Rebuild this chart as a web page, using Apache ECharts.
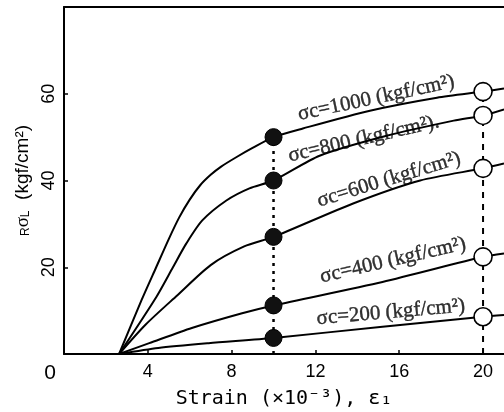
<!DOCTYPE html>
<html>
<head>
<meta charset="utf-8">
<script src="https://cdn.jsdelivr.net/npm/echarts@6/dist/echarts.min.js"></script>
<style>
  html, body { margin: 0; padding: 0; background: #fff; }
  #chart { width: 504px; height: 412px; }
</style>
</head>
<body>
<div id="chart"></div>
<script>
// Stress-strain curves for five confining pressures, [strain (x10^-3), stress]
const curve1000 = [[2.63,0],[3.7,12.4],[4.4,20],[5.0,26.5],[5.5,31.5],[6.0,35.6],[6.5,38.9],[7.0,41.3],[7.5,43.2],[8.2,45.3],[9.0,47.5],[10,50],[11.4,52],[14.6,56.1],[17.8,59.1],[20,60.5],[21,61.2]];
const curve800  = [[2.63,0],[4.4,13.1],[5.2,20],[5.84,25.5],[6.6,30.8],[7.75,35.4],[8.85,38.2],[10,40],[12.2,45.7],[15.4,50.3],[18.6,53.8],[20,55],[21,56.4]];
const curve600  = [[2.63,0],[3.9,6.8],[5.4,13.5],[7.0,20.5],[8.6,24.8],[10,27],[13.8,34.7],[17,40],[20,42.8],[21,43.9]];
const curve400  = [[2.63,0],[4.07,2.5],[6.1,6.0],[8.5,9.4],[10,11.2],[15.2,16.6],[20,22.4],[21,23.2]];
const curve200  = [[2.63,0],[4.5,1.4],[6.9,2.5],[10,3.7],[15.2,6.3],[20,8.6],[21,9.0]];

// Marked states at strain 10 and 20
const strainA = 10;
const stressA = [50, 40, 27, 11.2, 3.7];
const strainB = 20;
const stressB = [60.5, 55, 42.8, 22.4, 8.6];

// Curve captions: [x, y, text, angle]
const captions = [
  [14.9, 59.0, 'σc=1000 (kgf/cm²)', 12],
  [14.3, 49.6, 'σc=800 (kgf/cm²).', 13],
  [15.5, 40.2, 'σc=600 (kgf/cm²)', 17],
  [15.7, 21.6, 'σc=400 (kgf/cm²)', 13],
  [15.6, 9.6, 'σc=200 (kgf/cm²)', 5]
];

const xTicks = [0, 4, 8, 12, 16, 20];
const yTicks = [20, 40, 60];

const chart = echarts.init(document.getElementById('chart'), null, { renderer: 'canvas' });

const curveStyle = { color: '#000', width: 2 };
const curves = [curve1000, curve800, curve600, curve400, curve200].map(d => ({
  type: 'line', data: d, smooth: 0.25, showSymbol: false, silent: true,
  lineStyle: curveStyle, z: 3
}));

const option = {
  animation: false,
  backgroundColor: '#fff',
  grid: { left: 64, top: 7, right: 0, bottom: 58, outerBoundsMode: 'none', containLabel: false },
  xAxis: [{
    type: 'value', min: 0, max: 21, interval: 4,
    axisLine: { show: true, onZero: false, lineStyle: { color: '#000', width: 2 } },
    axisTick: { show: true, inside: true, length: 4, lineStyle: { color: '#000', width: 1.5 } },
    splitLine: { show: false },
    axisLabel: {
      margin: 9, color: '#000', fontSize: 18, fontFamily: 'Liberation Sans Narrow, Liberation Sans, sans-serif',
      showMaxLabel: false,
      formatter: v => xTicks.indexOf(v) < 0 ? '' : (v === 0 ? '{z|0}' : String(v)),
      rich: { z: { fontSize: 21, fontFamily: 'Liberation Sans, sans-serif', padding: [0, 28, 0, 0], color: '#000' } }
    },
    name: 'Strain (×10⁻³), ε₁',
    nameLocation: 'middle', nameGap: 26,
    nameTextStyle: { color: '#000', fontSize: 20, fontFamily: 'DejaVu Sans Mono, monospace' }
  }, {
    type: 'value', position: 'top', min: 0, max: 21,
    axisLine: { show: true, onZero: false, lineStyle: { color: '#000', width: 2 } },
    axisTick: { show: false }, axisLabel: { show: false }, splitLine: { show: false }
  }],
  yAxis: {
    type: 'value', min: 0, max: 80, interval: 20,
    axisLine: { show: true, onZero: false, lineStyle: { color: '#000', width: 2 } },
    axisTick: { show: true, inside: true, length: 4, lineStyle: { color: '#000', width: 1.5 } },
    splitLine: { show: false },
    axisLabel: {
      rotate: 90, margin: 6, color: '#000', fontSize: 18,
      fontFamily: 'Liberation Sans Narrow, Liberation Sans, sans-serif',
      formatter: v => yTicks.indexOf(v) < 0 ? '' : String(v)
    },
    name: '{s|R}{g|σ}{s|L}{u|  (kgf/cm²)}',
    nameLocation: 'middle', nameRotate: 90, nameGap: 30,
    nameTextStyle: {
      color: '#000',
      rich: {
        s: { fontSize: 12, fontFamily: 'Liberation Sans, sans-serif', color: '#000', verticalAlign: 'bottom' },
        g: { fontSize: 19, fontFamily: 'Liberation Serif, serif', color: '#000' },
        u: { fontSize: 19, fontFamily: 'Liberation Sans Narrow, Liberation Sans, sans-serif', color: '#000' }
      }
    }
  },
  series: [
    {
      type: 'line', data: [[strainA, 0], [strainA, stressA[0]]], showSymbol: false, silent: true,
      lineStyle: { color: '#000', width: 2.5, type: [3, 5] }, z: 2
    },
    {
      type: 'line', data: [[strainB, 0], [strainB, stressB[0]]], showSymbol: false, silent: true,
      lineStyle: { color: '#000', width: 2, type: [6, 6] }, z: 2
    },
    ...curves,
    {
      type: 'scatter', data: stressA.map(v => [strainA, v]), symbol: 'circle', symbolSize: 17,
      itemStyle: { color: '#111', borderColor: '#000', borderWidth: 1, opacity: 1 }, silent: true, z: 5
    },
    {
      type: 'scatter', data: stressB.map(v => [strainB, v]), symbol: 'circle', symbolSize: 18,
      itemStyle: { color: '#fff', borderColor: '#000', borderWidth: 1.6, opacity: 1 }, silent: true, z: 5
    },
    {
      type: 'scatter', symbolSize: 0, silent: true, z: 6,
      data: captions.map(c => ({
        value: [c[0], c[1]], name: c[2],
        label: { rotate: c[3] }
      })),
      label: {
        show: true, position: 'inside', formatter: p => p.name,
        color: '#000', fontSize: 21, fontFamily: 'Liberation Serif, serif',
        textBorderColor: '#000', textBorderWidth: 0.4
      }
    }
  ]
};

chart.setOption(option);
</script>
</body>
</html>
